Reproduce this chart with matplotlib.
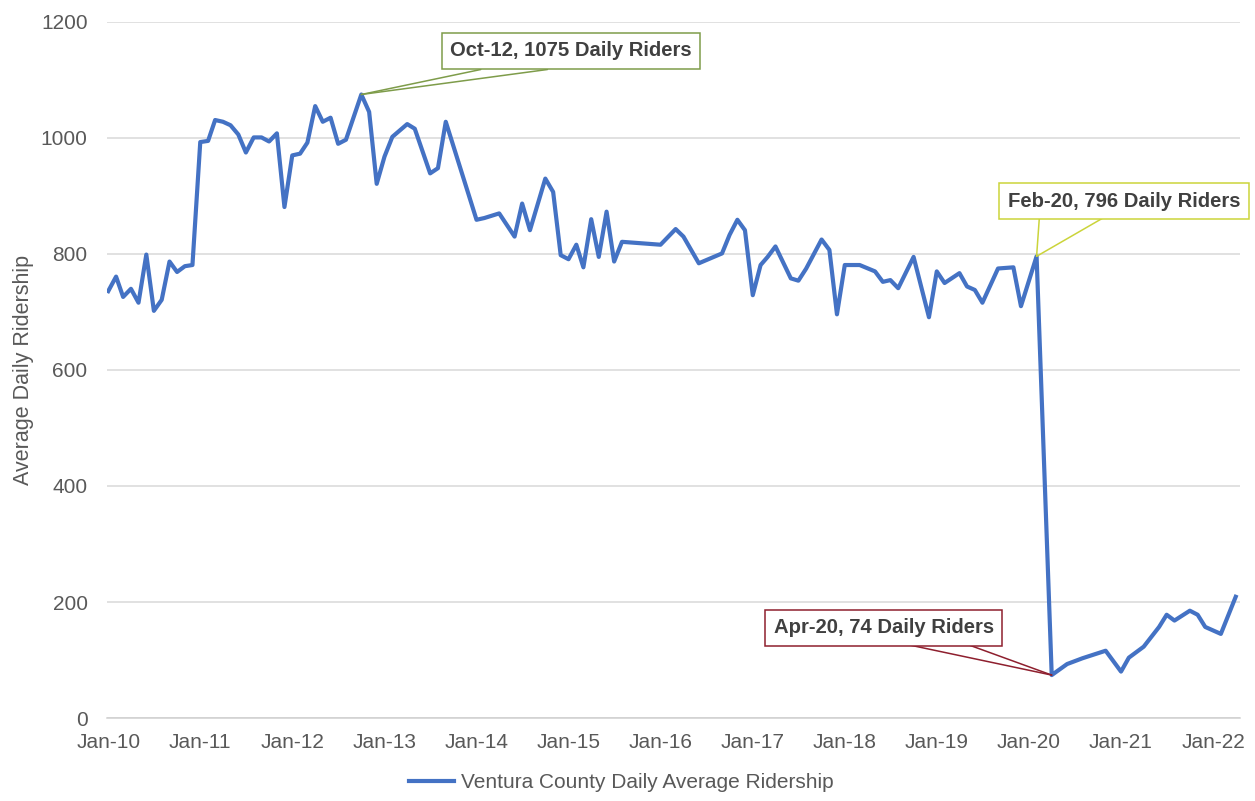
import matplotlib
matplotlib.use("Agg")
import matplotlib.pyplot as plt
import matplotlib.dates as mdates
import pandas as pd

plt.rcParams['font.family'] = ['Liberation Sans', 'DejaVu Sans']

# ---------------- data ----------------
months = [
    "2010-01", "2010-02", "2010-03", "2010-04", "2010-05", "2010-06", "2010-07", "2010-08",
    "2010-09", "2010-10", "2010-11", "2010-12",
    "2011-01", "2011-02", "2011-03", "2011-04", "2011-05", "2011-06", "2011-07", "2011-08",
    "2011-09", "2011-10", "2011-11", "2011-12",
    "2012-01", "2012-02", "2012-03", "2012-04", "2012-05", "2012-06", "2012-07", "2012-08",
    "2012-10", "2012-11", "2012-12",
    "2013-01", "2013-02", "2013-04", "2013-05", "2013-07", "2013-08", "2013-09",
    "2014-01", "2014-02", "2014-04", "2014-06", "2014-07", "2014-08", "2014-10", "2014-11", "2014-12",
    "2015-01", "2015-02", "2015-03", "2015-04", "2015-05", "2015-06", "2015-07", "2015-08",
    "2016-01", "2016-03", "2016-04", "2016-06", "2016-09", "2016-10", "2016-11", "2016-12",
    "2017-01", "2017-02", "2017-03", "2017-04", "2017-06", "2017-07", "2017-08", "2017-10",
    "2017-11", "2017-12",
    "2018-01", "2018-03", "2018-05", "2018-06", "2018-07", "2018-08", "2018-10", "2018-12",
    "2019-01", "2019-02", "2019-04", "2019-05", "2019-06", "2019-07", "2019-09", "2019-11", "2019-12",
    "2020-02", "2020-04", "2020-06", "2020-08", "2020-11",
    "2021-01", "2021-02", "2021-04", "2021-06", "2021-07", "2021-08", "2021-10", "2021-11", "2021-12",
    "2022-02", "2022-04",
]
riders = [
    736, 761, 726, 740, 716, 799, 702, 721,
    787, 769, 779, 781,
    993, 995, 1031, 1028, 1022, 1006, 975, 1001,
    1001, 994, 1008, 881,
    970, 973, 992, 1055, 1028, 1035, 990, 997,
    1075, 1045, 921,
    968, 1002, 1024, 1016, 939, 948, 1028,
    859, 862, 870, 830, 887, 841, 930, 907, 798,
    791, 816, 777, 860, 795, 873, 787, 821,
    816, 843, 830, 784, 801, 833, 859, 841,
    729, 781, 795, 813, 758, 754, 775, 825,
    807, 696,
    781, 781, 770, 752, 755, 741, 795, 691,
    770, 750, 767, 744, 738, 716, 775, 777, 710,
    796, 74, 93, 103, 116,
    80, 104, 123, 157, 178, 168, 185, 178, 157,
    145, 209,
]
series_name = "Ventura County Daily Average Ridership"
y_ticks = [0, 200, 400, 600, 800, 1000, 1200]
tick_years = list(range(2010, 2023))

# callouts: month, box edge colour
callout_months = ["2012-10", "2020-02", "2020-04"]
callout_colors = ["#7E9C4A", "#CBD43A", "#8E1F2E"]
# text-centre offset and two wedge base points (points, relative to data point)
callout_text_off = [(151, 31.5), (63, 39.5), (-121, 34)]
callout_base_off = [((86, 18), (134, 18)), ((2, 28), (48.5, 28)), ((-104, 22), (-60.5, 22))]

# ---------------- figure ----------------
dates = pd.to_datetime(months)
W, H = 1255, 801
fig = plt.figure(figsize=(W / 100, H / 100), dpi=100)
ax = fig.add_axes([107 / W, 1 - 718 / H, (1240 - 107) / W, (718 - 22) / H])

grey_text = "#595959"
FS = 15
line, = ax.plot(dates, riders, color="#4472C4", lw=3.0, solid_joinstyle="round",
                zorder=3, label=series_name)

ax.set_ylim(0, 1200)
ax.set_xlim(pd.Timestamp("2009-12-27"), pd.Timestamp("2022-04-18"))
ax.set_yticks(y_ticks)
ax.set_xticks(pd.to_datetime([f"{y}-01-01" for y in tick_years]))
ax.xaxis.set_major_formatter(mdates.DateFormatter("%b-%y"))

ax.grid(axis="y", color="#d9d9d9", lw=1.1)
ax.set_axisbelow(True)
for s in ["top", "right", "left"]:
    ax.spines[s].set_visible(False)
ax.spines["bottom"].set_color("#d0d0d0")
ax.spines["bottom"].set_linewidth(1.1)
ax.tick_params(axis="y", length=0, pad=14, labelsize=FS, labelcolor=grey_text)
ax.tick_params(axis="x", length=0, pad=11, labelsize=FS, labelcolor=grey_text)
ax.set_ylabel("Average Daily Ridership", fontsize=15.5, color=grey_text, labelpad=5)

# callouts
lookup = dict(zip(months, riders))
for m, c, toff, boffs in zip(callout_months, callout_colors, callout_text_off, callout_base_off):
    d = pd.Timestamp(m + "-01")
    v = lookup[m]
    for bo in boffs:
        ax.annotate("", xy=(d, v), xytext=bo, textcoords="offset points",
                    arrowprops=dict(arrowstyle="-", color=c, lw=1.1, shrinkA=0, shrinkB=0),
                    annotation_clip=False, zorder=4)
    ax.annotate(f"{d:%b-%y}, {v} Daily Riders", xy=(d, v), xytext=toff,
                textcoords="offset points", ha="center", va="center",
                fontsize=14.6, fontweight="bold", color="#404040",
                bbox=dict(boxstyle="square,pad=0.42", fc="white", ec=c, lw=1.1),
                annotation_clip=False, zorder=5)

fig.legend(handles=[line], labels=[series_name], loc="center",
           bbox_to_anchor=(621 / W, 1 - 783 / H), frameon=False, fontsize=FS,
           labelcolor=grey_text, handlelength=2.2, handletextpad=0.3)

fig.savefig("out.png", dpi=100, facecolor="white")
